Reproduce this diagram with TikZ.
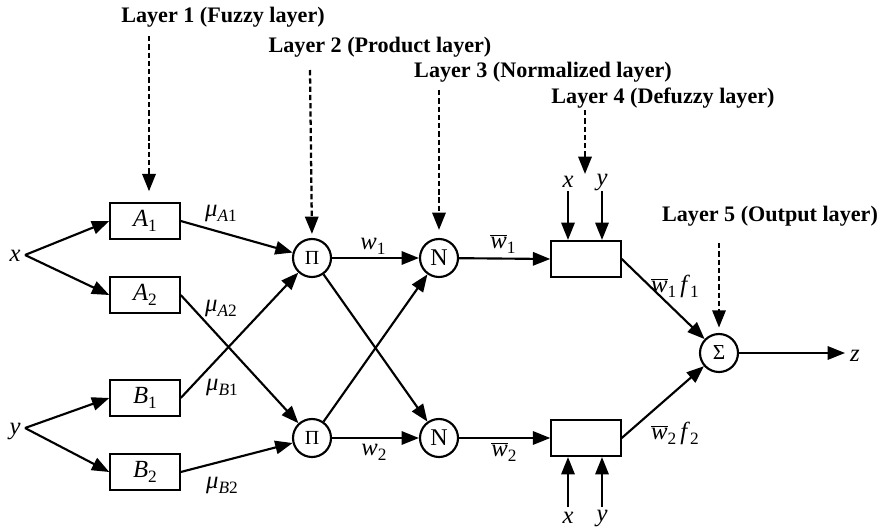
\documentclass[tikz,border=0pt]{standalone}
\usepackage{fontspec}
\setmainfont{Liberation Serif}
\usetikzlibrary{arrows.meta}
\newcommand{\sbs}[1]{\raisebox{-0.45ex}{\fontsize{13}{13}\selectfont #1}}
\newcommand{\wbar}{\ensuremath{\overline{\mbox{\textit{w}}}}}
\begin{document}
\begin{tikzpicture}[x=0.75pt,y=-0.75pt,
  lbl/.style={font=\fontsize{18.5}{20}\selectfont, inner sep=0pt},
  layer/.style={font=\bfseries\fontsize{16.6}{18}\selectfont, inner sep=0pt},
  fbox/.style={draw, line width=1.6pt, minimum width=52pt, minimum height=27pt, inner sep=0pt, font=\fontsize{18.5}{20}\selectfont},
  op/.style={draw, circle, line width=1.6pt, minimum size=28.5pt, inner sep=0pt},
  conn/.style={line width=1.6pt, -{Triangle[length=13pt,width=10pt]}},
  dasharrow/.style={line width=1.7pt, dash pattern=on 4pt off 2.2pt, -{Triangle[length=13pt,width=10pt]}}
]
\useasboundingbox (0,0) rectangle (884,531);

% inputs
\node[lbl] (xlab) at (15,256) {\textit{x}};
\node[lbl] (ylab) at (15,431) {\textit{y}};
\coordinate (xin) at (25,255);
\coordinate (yin) at (25,428);

% layer 1
\node[fbox] (A1) at (145,221) {\textit{A}\sbs{1}};
\node[fbox] (A2) at (145,295) {\textit{A}\sbs{2}};
\node[fbox] (B1) at (145,398) {\textit{B}\sbs{1}};
\node[fbox] (B2) at (145,472) {\textit{B}\sbs{2}};

% layer 2,3
\node[op,font=\fontsize{15}{15}\selectfont] (P1) at (312,258) {Π};
\node[op,font=\fontsize{15}{15}\selectfont] (P2) at (312,438) {Π};
\node[op,font=\fontsize{18}{18}\selectfont] (N1) at (439,258) {N};
\node[op,font=\fontsize{18}{18}\selectfont] (N2) at (439,438) {N};

% layer 4
\node[fbox] (D1) at (586,259) {};
\node[fbox] (D2) at (586,438) {};

% layer 5
\node[op,font=\fontsize{16}{16}\selectfont] (S) at (719,353) {Σ};
\coordinate (zout) at (845,353);
\node[lbl] (zlab) at (855,356) {\textit{z}};

% connectors
\draw[conn] (xin) -- (A1.west);
\draw[conn] (xin) -- (A2.west);
\draw[conn] (yin) -- (B1.west);
\draw[conn] (yin) -- (B2.west);
\draw[conn] (A1.east) -- (P1);
\draw[conn] (A2.east) -- (P2);
\draw[conn] (B1.east) -- (P1);
\draw[conn] (B2.east) -- (P2);
\draw[conn] (P1) -- (N1);
\draw[conn] (P1) -- (N2);
\draw[conn] (P2) -- (N1);
\draw[conn] (P2) -- (N2);
\draw[conn] (N1) -- (D1.west);
\draw[conn] (N2) -- (D2.west);
\draw[conn] (D1.east) -- (S);
\draw[conn] (D2.east) -- (S);
\draw[conn] (S) -- (zout);

% edge labels
\node[lbl] (muA1) at (221,213) {\textit{μ}\sbs{\textit{A}1}};
\node[lbl] (muA2) at (221,308) {\textit{μ}\sbs{\textit{A}2}};
\node[lbl] (muB1) at (222,387) {\textit{μ}\sbs{\textit{B}1}};
\node[lbl] (muB2) at (222,485) {\textit{μ}\sbs{\textit{B}2}};
\node[lbl] (w1) at (373,246) {\textit{w}\sbs{1}};
\node[lbl] (w2) at (374,452) {\textit{w}\sbs{2}};
\node[lbl] (wb1) at (503,244) {\wbar\sbs{1}};
\node[lbl] (wb2) at (504,452) {\wbar\sbs{2}};
\node[lbl] (wf1) at (675,286) {\wbar\sbs{1}\,\textit{f}\sbs{1}};
\node[lbl] (wf2) at (675,433) {\wbar\sbs{2}\,\textit{f}\sbs{2}};

% defuzzy inputs
\node[lbl] (dx1) at (568,182) {\textit{x}};
\node[lbl] (dy1) at (602,182) {\textit{y}};
\node[lbl] (dx2) at (568,518) {\textit{x}};
\node[lbl] (dy2) at (602,518) {\textit{y}};
\coordinate (dx1s) at (568,191);
\coordinate (dy1s) at (602,191);
\coordinate (dx2s) at (568,507);
\coordinate (dy2s) at (602,507);
\draw[conn] (dx1s) -- (dx1s |- D1.north);
\draw[conn] (dy1s) -- (dy1s |- D1.north);
\draw[conn] (dx2s) -- (dx2s |- D2.south);
\draw[conn] (dy2s) -- (dy2s |- D2.south);

% layer titles
\node[layer] (L1) at (223,17) {Layer 1 (Fuzzy layer)};
\node[layer] (L2) at (380,47) {Layer 2 (Product layer)};
\node[layer] (L3) at (543,72) {Layer 3 (Normalized layer)};
\node[layer] (L4) at (663,98) {Layer 4 (Defuzzy layer)};
\node[layer] (L5) at (770,216) {Layer 5 (Output layer)};
\coordinate (L1s) at (149,36);
\coordinate (L2s) at (310,70);
\coordinate (L3s) at (439,90);
\coordinate (L4s) at (585,110);
\coordinate (L4e) at (585,174);
\coordinate (L5s) at (719,243);
\draw[dasharrow, shorten >=8pt] (L1s) -- (L1s |- A1.north);
\draw[dasharrow, shorten >=3pt] (L2s) -- (P1.north);
\draw[dasharrow, shorten >=6pt] (L3s) -- (N1.north);
\draw[dasharrow] (L4s) -- (L4e);
\draw[dasharrow, shorten >=4pt] (L5s) -- (S.north);
\end{tikzpicture}
\end{document}
